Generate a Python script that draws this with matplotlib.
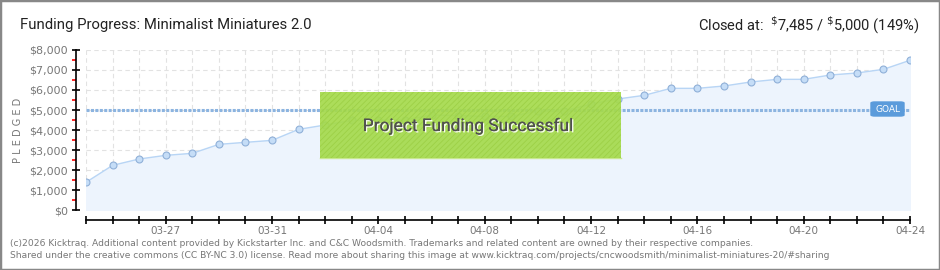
import matplotlib
matplotlib.use("Agg")
import matplotlib.pyplot as plt
from matplotlib.patches import Rectangle, FancyBboxPatch
from matplotlib.ticker import MultipleLocator, FuncFormatter
import matplotlib.patheffects as pe

# daily pledged totals, 03-24 .. 04-24
days = ["03-24", "03-25", "03-26", "03-27", "03-28", "03-29", "03-30", "03-31",
        "04-01", "04-02", "04-03", "04-04", "04-05", "04-06", "04-07", "04-08",
        "04-09", "04-10", "04-11", "04-12", "04-13", "04-14", "04-15", "04-16",
        "04-17", "04-18", "04-19", "04-20", "04-21", "04-22", "04-23", "04-24"]
pledged = [1385, 2233, 2550, 2733, 2833, 3283, 3383, 3483,
           4033, 4250, 4480, 4490, 4500, 4750, 4720, 4680,
           4680, 4950, 4950, 5300, 5550, 5733, 6083, 6083,
           6200, 6400, 6533, 6533, 6750, 6850, 7033, 7485]
goal = 5000
label_days = ["03-27", "03-31", "04-04", "04-08", "04-12", "04-16", "04-20", "04-24"]

plt.rcParams["hatch.linewidth"] = 0.6

W, H = 940, 270
fig = plt.figure(figsize=(W / 100, H / 100), dpi=100)
fig.patch.set_facecolor("white")

def fx(px): return px / W
def fy(py): return 1 - py / H

ax = fig.add_axes([fx(86), fy(210), fx(910) - fx(86), fy(50) - fy(210)])
x = list(range(len(days)))
ax.set_xlim(0, len(days) - 1)
ax.set_ylim(0, 8000)

ax.fill_between(x, pledged, 0, color="#edf4fd", zorder=1)
ax.plot(x, pledged, color="#b8d5f5", lw=1, zorder=3,
        marker="o", ms=5, mfc="#c5ddf7", mec="#90b0d8", mew=0.8)
ax.axhline(goal, color="#8cb4e0", lw=2.2, ls=(0, (1, 0.45)), zorder=2)

# grid
ax.set_xticks(x)
ax.yaxis.set_major_locator(MultipleLocator(1000))
ax.yaxis.set_minor_locator(MultipleLocator(500))
ax.grid(True, which="major", color="#e2e2e2", ls=(0, (4, 3)), lw=0.8, zorder=0)
ax.set_axisbelow(True)

for s in ["top", "right"]:
    ax.spines[s].set_visible(False)
ax.spines["left"].set_position(("outward", 7.2))
ax.spines["bottom"].set_position(("outward", 7.2))
ax.spines["left"].set_linewidth(1.2)
ax.spines["bottom"].set_linewidth(1.2)

ax.yaxis.set_major_formatter(FuncFormatter(lambda v, p: f"${int(v):,}"))
ax.tick_params(axis="y", which="major", direction="inout", length=6, width=1.2,
               colors="black", labelcolor="#777777", labelsize=8, pad=3)
ax.tick_params(axis="y", which="minor", direction="out", length=3, width=1.2, color="red")
ax.set_xticklabels([d if d in label_days else "" for d in days])
ax.tick_params(axis="x", direction="inout", length=6, width=1.2, colors="black",
               labelcolor="#777777", labelsize=7.5, pad=1)
ax.set_ylabel("P L E D G E D", fontsize=7, color="#777777", labelpad=4)

# goal badge
fig.patches.append(FancyBboxPatch((fx(871), fy(116)), fx(904) - fx(871), fy(102) - fy(116),
                                  boxstyle="round,pad=0,rounding_size=0.004",
                                  transform=fig.transFigure, facecolor="#5b9bdb",
                                  edgecolor="#5b9bdb", zorder=5))
fig.text(fx(887.5), fy(109), "GOAL", color="white", fontsize=6.5, ha="center", va="center",
         zorder=6)

# success banner
fig.patches.append(Rectangle((fx(320), fy(158)), fx(621) - fx(320), fy(92) - fy(158),
                             transform=fig.transFigure, facecolor="#a5da4c", alpha=0.92,
                             edgecolor="#9ccf44", lw=0, hatch="//////", zorder=5))
fig.add_artist(plt.Line2D([fx(320), fx(621)], [fy(158), fy(158)], color="#c8e890", lw=1,
                          zorder=5))
fig.text(fx(468), fy(126), "Project Funding Successful", fontsize=12.5, color="#505050",
         family="Roboto", ha="center", va="center", zorder=6,
         path_effects=[pe.withSimplePatchShadow(offset=(1, -1), shadow_rgbFace="white", alpha=0.9),
                       pe.Normal()])

# header
fig.text(fx(20), fy(25), "Funding Progress: Minimalist Miniatures 2.0", fontsize=10.7,
         family="Roboto", color="#222222", va="center", ha="left")
fig.text(fx(919), fy(25), r"Closed at:  $^{\$}$7,485 / $^{\$}$5,000 (149%)", fontsize=10.5,
         family="Roboto", color="#222222", va="center", ha="right")

# footer
fig.text(fx(10), fy(243), "(c)2026 Kicktraq. Additional content provided by Kickstarter Inc. and C&C "
         "Woodsmith. Trademarks and related content are owned by their respective companies.",
         fontsize=6.6, color="#777777", va="center")
fig.text(fx(10), fy(256), "Shared under the creative commons (CC BY-NC 3.0) license. Read more about "
         "sharing this image at www.kicktraq.com/projects/cncwoodsmith/minimalist-miniatures-20/#sharing",
         fontsize=6.6, color="#777777", va="center")

# outer border
fig.patches.append(Rectangle((0, 0), 1, 1, transform=fig.transFigure, fill=False,
                             edgecolor="#888888", lw=2.5, zorder=10))

fig.savefig("out.png", dpi=100)
